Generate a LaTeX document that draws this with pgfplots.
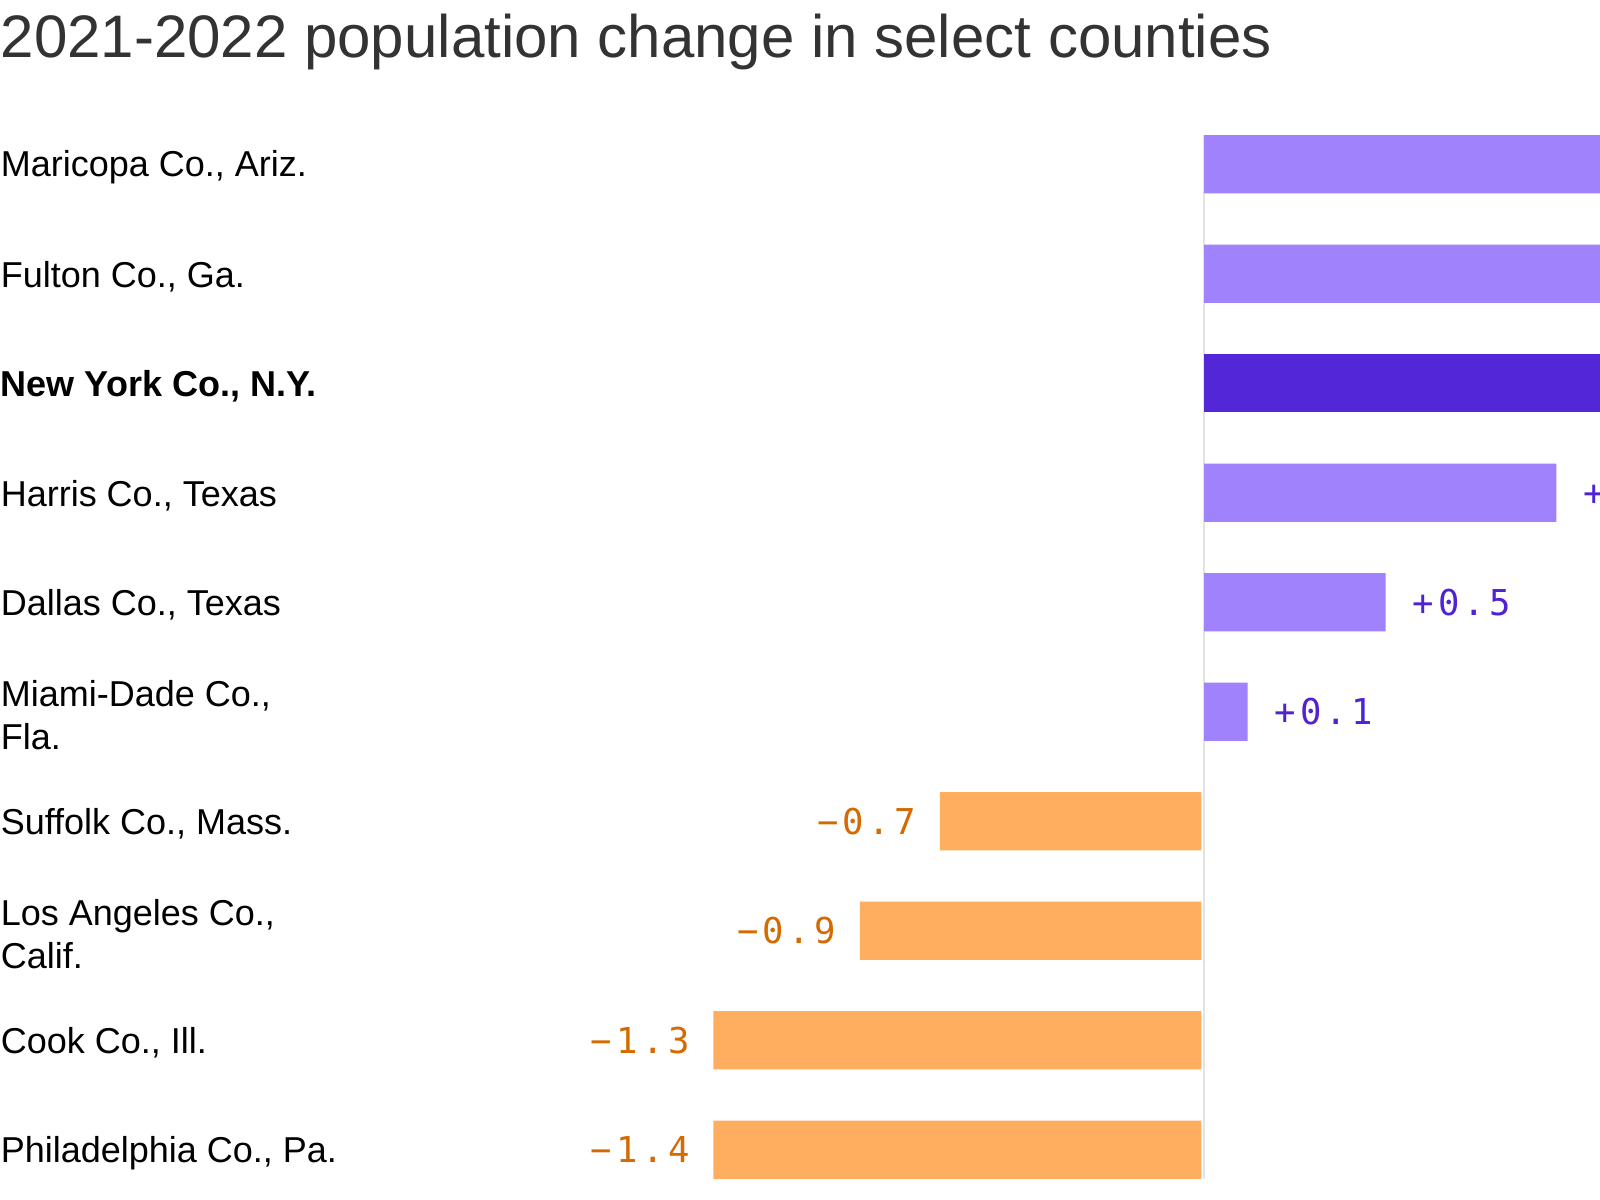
\documentclass[border=0pt]{standalone}
\usepackage{fontspec}
\setmainfont{Liberation Sans}
\newfontfamily\valfont[LetterSpace=12]{DejaVu Sans Mono}
\usepackage{pgfplots}
\usepackage{pgfplotstable}
\pgfplotsset{compat=1.18}
\definecolor{barlight}{HTML}{A182FD}
\definecolor{bardark}{HTML}{5327D8}
\definecolor{barorange}{HTML}{FFAE5F}
\definecolor{txtpurple}{HTML}{4F22D4}
\definecolor{txtorange}{HTML}{D46A00}
\definecolor{titlegray}{HTML}{333333}
\definecolor{zerogray}{HTML}{E3E3E3}

\pgfplotstableread{
y x lbl
0 1.30 +1.3
1 1.20 +1.2
3 0.97 +1.0
4 0.50 +0.5
5 0.12 +0.1
}\tpos
\pgfplotstableread{
y x lbl
2 1.20 +1.2
}\thl
\pgfplotstableread{
y x lbl
6 -0.72 −0.7
7 -0.94 −0.9
8 -1.343 −1.3
9 -1.343 −1.4
}\tneg

\begin{document}
\begin{tikzpicture}
\fill[white] (0,0) rectangle (400pt,300pt);
\useasboundingbox (0,0) rectangle (400pt,300pt);
\clip (0,0) rectangle (400pt,300pt);
\begin{axis}[
  at={(0,0)}, anchor=south west,
  scale only axis, width=400pt, height=300pt,
  xmin=-3.315, xmax=1.090,
  ymin=-1.5, ymax=9.459, y dir=reverse,
  axis line style={draw=none},
  tick style={draw=none},
  xtick=\empty,
  ytick={0,1,2,3,4,5,6,7,8,9},
  yticklabels={{Maricopa Co., Ariz.},{Fulton Co., Ga.},{\bfseries New York Co., N.Y.},{Harris Co., Texas},{Dallas Co., Texas},{Miami-Dade Co.,\\Fla.},{Suffolk Co., Mass.},{Los Angeles Co.,\\Calif.},{Cook Co., Ill.},{Philadelphia Co., Pa.}},
  yticklabel style={anchor=west, align=left, inner sep=0pt, yshift=-0.75pt, font=\fontsize{9.0}{10.8}\selectfont, text=black},
  major tick length=0pt,
  clip=true,
]
\draw[zerogray, line width=0.6pt] (axis cs:0,-0.27) -- (axis cs:0,9.27);
\addplot[xbar, bar width=14.55pt, bar shift=0pt, fill=barlight, draw=none,
  nodes near coords, point meta=explicit symbolic,
  nodes near coords style={anchor=west, inner sep=0pt, xshift=6.5pt, text=txtpurple, font=\fontsize{8.9}{10}\valfont}]
  table[x=x, y=y, meta=lbl] {\tpos};
\addplot[xbar, bar width=14.55pt, bar shift=0pt, fill=bardark, draw=none,
  nodes near coords, point meta=explicit symbolic,
  nodes near coords style={anchor=west, inner sep=0pt, xshift=6.5pt, text=txtpurple, font=\fontsize{8.9}{10}\valfont}]
  table[x=x, y=y, meta=lbl] {\thl};
\addplot[xbar, bar width=14.55pt, bar shift=0pt, fill=barorange, draw=none, xshift=-0.7pt,
  nodes near coords, point meta=explicit symbolic,
  nodes near coords style={anchor=east, inner sep=0pt, xshift=-5.8pt, text=txtorange, font=\fontsize{8.9}{10}\valfont}]
  table[x=x, y=y, meta=lbl] {\tneg};
\end{axis}
\node[anchor=base west, inner sep=0pt, text=titlegray, font=\fontsize{15}{18}\selectfont] at (0,285.5pt) {2021-2022 population change in select counties};
\end{tikzpicture}
\end{document}
